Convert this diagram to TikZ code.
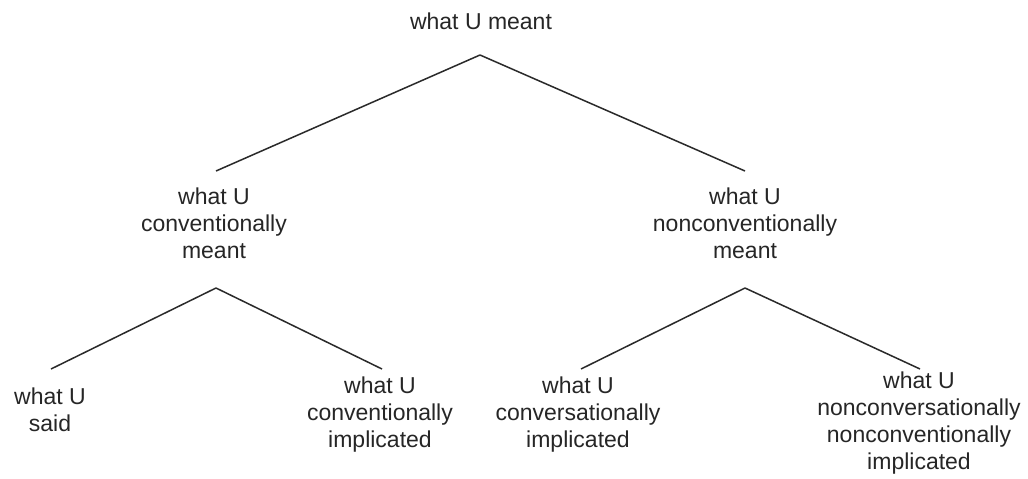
\documentclass[tikz,border=0pt]{standalone}
\usepackage{fontspec}
\setmainfont{Liberation Sans}
\definecolor{ink}{HTML}{262626}
\definecolor{linec}{HTML}{2A2A2A}
\begin{document}
\begin{tikzpicture}[x=1pt,y=-1pt,
  lbl/.style={align=center,inner sep=0pt,anchor=north,text=ink,
    font=\fontsize{23}{27}\selectfont},
  branch/.style={draw=linec,line width=1.5pt,line join=round}]
\useasboundingbox (0,0) rectangle (1028,479);
\fill[white] (0,0) rectangle (1028,479);
% text nodes
\node[lbl] (top) at (481,12.5) {what U meant};
\node[lbl] (cm) at (214,187.5) {what U\\conventionally\\meant};
\node[lbl] (nm) at (745,187.5) {what U\\nonconventionally\\meant};
\node[lbl] (said) at (50,388) {what U\\said};
\node[lbl] (ci) at (380,377) {what U\\conventionally\\implicated};
\node[lbl] (cvi) at (578,377) {what U\\conversationally\\implicated};
\node[lbl] (nni) at (919,372) {what U\\nonconversationally\\nonconventionally\\implicated};
% branch points
\coordinate (topA) at (480,55);
\coordinate (cmT) at (216,171);
\coordinate (nmT) at (745,171);
\coordinate (cmA) at (216,288);
\coordinate (nmA) at (745,288);
\coordinate (saidT) at (51,369);
\coordinate (ciT) at (382,369);
\coordinate (cviT) at (581,369);
\coordinate (nniT) at (920,369);
% connectors
\draw[branch] (cmT) -- (topA) -- (nmT);
\draw[branch] (saidT) -- (cmA) -- (ciT);
\draw[branch] (cviT) -- (nmA) -- (nniT);
\end{tikzpicture}
\end{document}
